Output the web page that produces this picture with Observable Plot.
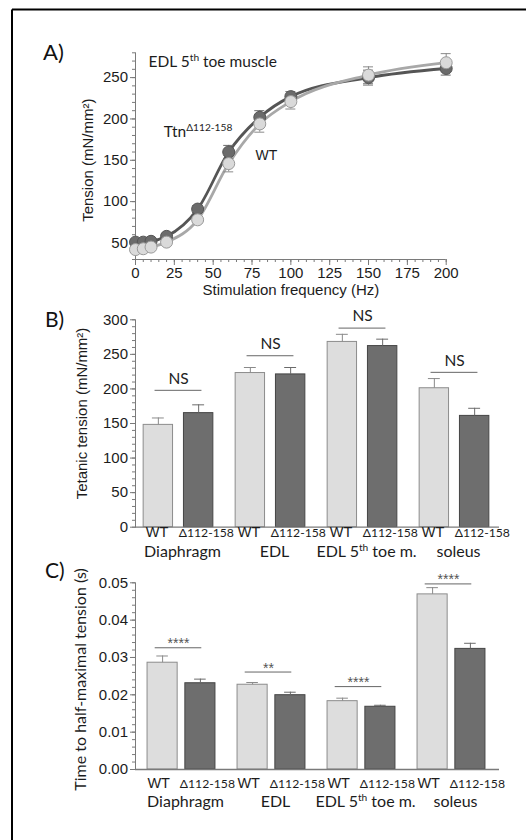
<!DOCTYPE html>
<html><head><meta charset="utf-8">
<script src="https://cdn.jsdelivr.net/npm/d3@7"></script>
<script src="https://cdn.jsdelivr.net/npm/@observablehq/plot@0.6"></script>
<style>
body{margin:0;background:#fff;}
#wrap{position:relative;width:526px;height:840px;overflow:hidden;background:#fff;}
.panel{position:absolute;left:0;}
#over{position:absolute;left:0;top:0;}
</style></head><body>
<div id="wrap">
<svg id="over" width="526" height="840">
  <line x1="12" y1="9.5" x2="526" y2="9.5" stroke="#000" stroke-width="2"/>
  <line x1="12" y1="9.5" x2="12" y2="840" stroke="#000" stroke-width="2"/>
  <text x="43" y="59.5" font-family="Lato, sans-serif" font-size="22" fill="#111">A)</text>
  <text x="45" y="327" font-family="Lato, sans-serif" font-size="21" fill="#111">B)</text>
  <text x="45" y="577.5" font-family="Lato, sans-serif" font-size="21" fill="#111">C)</text>
</svg>
<div id="pA" class="panel" style="top:40px"></div>
<div id="pB" class="panel" style="top:300px"></div>
<div id="pC" class="panel" style="top:570px"></div>
</div>
<script>
// ---------- Panel A data ----------
const freqHz = [0, 5, 10, 20, 40, 60, 80, 100, 150, 200];
const tensionTtn = [51, 51, 52, 58, 91, 160, 202, 227, 250, 261];
const tensionTtnSem = [3, 3, 3, 3, 4, 8, 8, 6, 9, 8];
const tensionWT = [42, 43, 45, 51, 78, 146, 194, 221, 253, 268];
const tensionWTSem = [3, 3, 3, 3, 3, 10, 10, 9, 10, 11];
const ticksAx = [0, 25, 50, 75, 100, 125, 150, 175, 200];
const ticksAy = [50, 100, 150, 200, 250];

// ---------- Panel B / C shared categories ----------
const muscles = ["Diaphragm", "EDL", "EDL 5^{th} toe m.", "soleus"];
const genotypes = ["WT", "\u0394112-158"];

// ---------- Panel B data ----------
const tetanicWT = [148, 223, 268, 201];
const tetanicWTSem = [10, 8, 11, 14];
const tetanicDel = [165, 221, 262, 161];
const tetanicDelSem = [12, 10, 10, 11];
const tetanicSig = ["NS", "NS", "NS", "NS"];
const tetanicSigLevel = [198, 248, 288, 224];
const ticksBy = [0, 50, 100, 150, 200, 250, 300];

// ---------- Panel C data ----------
const halfWT = [0.0286, 0.0227, 0.0183, 0.0469];
const halfWTSem = [0.0018, 0.0006, 0.0008, 0.0018];
const halfDel = [0.0231, 0.0199, 0.0168, 0.0323];
const halfDelSem = [0.0011, 0.0008, 0.0004, 0.0015];
const halfSig = ["****", "**", "****", "****"];
const halfSigLevel = [0.0326, 0.0261, 0.0222, 0.0497];
const ticksCy = [0, 0.01, 0.02, 0.03, 0.04, 0.05];

const axisColor = "#7a7a7a";
const textColor = "#1c1c1c";
const arial = "'Liberation Sans', Arial, sans-serif";
const cal = "Lato, 'Open Sans', sans-serif";

function supify(svg) {
  d3.select(svg).selectAll("text").each(function () {
    const t = this.textContent;
    if (!t.includes("^{")) return;
    const fs = parseFloat(getComputedStyle(this).fontSize) || 15;
    const parts = t.split(/(\^\{[^}]*\})/).filter(p => p);
    while (this.firstChild) this.removeChild(this.firstChild);
    let shifted = false;
    for (const p of parts) {
      const m = p.match(/^\^\{(.*)\}$/);
      const ts = document.createElementNS("http://www.w3.org/2000/svg", "tspan");
      if (m) {
        ts.textContent = m[1];
        ts.setAttribute("dy", (-0.38 * fs).toFixed(2));
        ts.setAttribute("font-size", (0.68 * fs).toFixed(2));
        shifted = true;
      } else {
        ts.textContent = p;
        if (shifted) { ts.setAttribute("dy", (0.38 * fs).toFixed(2)); shifted = false; }
      }
      this.appendChild(ts);
    }
  });
  return svg;
}

// ---------- Panel A ----------
const rowsTtn = freqHz.map((f, i) => ({f, t: tensionTtn[i], e: tensionTtnSem[i]}));
const rowsWT = freqHz.map((f, i) => ({f, t: tensionWT[i], e: tensionWTSem[i]}));

function errMarks(rows, color) {
  return [
    Plot.ruleX(rows, {x: "f", y1: d => d.t - d.e, y2: d => d.t + d.e, stroke: color, strokeWidth: 1}),
    Plot.ruleY(rows, {x1: "f", x2: "f", y: d => d.t + d.e, insetLeft: -5, insetRight: -5, stroke: color, strokeWidth: 1}),
    Plot.ruleY(rows, {x1: "f", x2: "f", y: d => d.t - d.e, insetLeft: -5, insetRight: -5, stroke: color, strokeWidth: 1})
  ];
}

const plotA = Plot.plot({
  width: 526, height: 270,
  marginLeft: 135, marginRight: 80.3, marginTop: 12.3, marginBottom: 51,
  x: {domain: [0, 200]},
  y: {domain: [30, 280]},
  style: {fontFamily: arial, fontSize: "15px", color: textColor, background: "transparent", overflow: "visible"},
  marks: [
    Plot.ruleX([0], {stroke: axisColor}),
    Plot.ruleY([30], {stroke: axisColor}),
    Plot.axisY({ticks: ticksAy, tickSize: 5, tickPadding: 2.5, stroke: axisColor, label: null}),
    Plot.axisY({ticks: d3.range(30, 281, 10), tickSize: 3, text: null, stroke: axisColor, label: null}),
    Plot.axisX({ticks: ticksAx, tickSize: 6, tickPadding: 2, stroke: axisColor, label: null}),
    Plot.axisX({ticks: d3.range(0, 201, 5), tickSize: 3, text: null, stroke: axisColor, label: null}),
    Plot.text(["Tension (mN/mm\u00b2)"], {text: d => d, frameAnchor: "left", textAnchor: "middle", rotate: -90, dx: -47, dy: 4}),
    Plot.text(["Stimulation frequency (Hz)"], {text: d => d, frameAnchor: "bottom", dy: 35.5}),
    Plot.line(rowsTtn, {x: "f", y: "t", curve: "monotone-x", stroke: "#555", strokeWidth: 2.8}),
    Plot.line(rowsWT, {x: "f", y: "t", curve: "monotone-x", stroke: "#a8a8a8", strokeWidth: 2.8}),
    ...errMarks(rowsTtn, "#6a6a6a"),
    ...errMarks(rowsWT, "#8a8a8a"),
    Plot.dot(rowsTtn, {x: "f", y: "t", r: 6, fill: "#6b6b6b", stroke: "#555", strokeWidth: 1}),
    Plot.dot(rowsWT, {x: "f", y: "t", r: 6, fill: "#dadada", stroke: "#9a9a9a", strokeWidth: 1}),
    Plot.text(["EDL 5^{th} toe muscle"], {text: d => d, x: 8.4, y: 263, textAnchor: "start", lineAnchor: "bottom", fontFamily: cal, fontSize: 15.5}),
    Plot.text(["Ttn^{\u0394112-158}"], {text: d => d, x: 18.2, y: 178, textAnchor: "start", lineAnchor: "bottom", fontFamily: cal, fontSize: 15.5}),
    Plot.text(["WT"], {text: d => d, x: 77.2, y: 150, textAnchor: "start", lineAnchor: "bottom", fontSize: 14})
  ]
});
document.getElementById("pA").appendChild(supify(plotA));

// ---------- Bar panels ----------
function barPanel(o) {
  const wtRows = muscles.map((m, i) => ({muscle: m, g: genotypes[0], v: o.wt[i], e: o.wtSem[i]}));
  const delRows = muscles.map((m, i) => ({muscle: m, g: genotypes[1], v: o.del[i], e: o.delSem[i]}));
  const sigRows = muscles.map((m, i) => ({muscle: m, s: o.sig[i], level: o.sigLevel[i]}));
  const bw = (o.range[1] - o.range[0]) / muscles.length;
  const wL = bw / 2 - o.half - o.barW / 2, wR = bw - wL - o.barW;
  const dL = bw / 2 + o.half - o.barW / 2, dR = bw - dL - o.barW;
  const cw = 12;
  const cwL = bw / 2 - o.half - cw / 2, cwR = bw - cwL - cw;
  const cdL = bw / 2 + o.half - cw / 2, cdR = bw - cdL - cw;
  const bL = bw / 2 - o.bracketHalf + o.bracketDx, bR = bw - bL - 2 * o.bracketHalf;
  const p = Plot.plot({
    width: 526, height: o.height,
    marginLeft: 135, marginRight: 27, marginTop: o.marginTop, marginBottom: o.marginBottom,
    x: {type: "band", domain: muscles, range: o.range, padding: 0, axis: null},
    y: {domain: o.yDomain},
    style: {fontFamily: arial, fontSize: "15px", color: textColor, background: "transparent", overflow: "visible"},
    marks: [
      Plot.barY(wtRows, {x: "muscle", y: "v", insetLeft: wL, insetRight: wR, fill: "#dddddd", stroke: "#8c8c8c", strokeWidth: 1}),
      Plot.barY(delRows, {x: "muscle", y: "v", insetLeft: dL, insetRight: dR, fill: "#6e6e6e", stroke: "#454545", strokeWidth: 1}),
      Plot.ruleX(wtRows, {x: "muscle", y1: "v", y2: d => d.v + d.e, dx: -o.half, stroke: "#8a8a8a"}),
      Plot.ruleX(delRows, {x: "muscle", y1: "v", y2: d => d.v + d.e, dx: o.half, stroke: "#6a6a6a"}),
      Plot.tickY(wtRows, {x: "muscle", y: d => d.v + d.e, insetLeft: cwL, insetRight: cwR, stroke: "#8a8a8a"}),
      Plot.tickY(delRows, {x: "muscle", y: d => d.v + d.e, insetLeft: cdL, insetRight: cdR, stroke: "#6a6a6a"}),
      Plot.ruleY([o.yDomain[0]], {stroke: axisColor, strokeWidth: 1.3}),
      Plot.frame({anchor: "left", stroke: axisColor}),
      Plot.axisY({ticks: o.yTicks, tickSize: 5, tickPadding: 2.5, stroke: axisColor, label: null, tickFormat: o.yFormat}),
      Plot.axisY({ticks: o.yMinor, tickSize: 3, text: null, stroke: axisColor, label: null}),
      Plot.tickY(sigRows, {x: "muscle", y: "level", insetLeft: bL, insetRight: bR, stroke: "#666", strokeWidth: 1}),
      Plot.text(sigRows, {x: "muscle", y: "level", text: "s", dy: o.sigDy, dx: o.bracketDx, fontFamily: o.sigFont, fontSize: o.sigSize, fill: o.sigColor, letterSpacing: o.sigSpacing}),
      Plot.text(wtRows, {x: "muscle", text: "g", frameAnchor: "bottom", dx: o.wtDx, dy: o.row1, fontSize: 14.5}),
      Plot.text(delRows, {x: "muscle", text: "g", frameAnchor: "bottom", dx: o.delDx, dy: o.row1, fontFamily: cal, fontSize: 12.2}),
      Plot.text(muscles, {x: d => d, text: d => d, frameAnchor: "bottom", dx: 4, dy: o.row2, fontFamily: cal, fontSize: 16}),
      Plot.text([o.label], {text: d => d, frameAnchor: "left", textAnchor: "middle", rotate: -90, dx: o.labelDx, dy: o.labelDy, fontFamily: o.labelFont, fontSize: o.labelSize})
    ]
  });
  return supify(p);
}

document.getElementById("pB").appendChild(barPanel({
  height: 280, marginTop: 19.3, marginBottom: 53.3,
  range: [132.1, 500.5], yDomain: [0, 300],
  yTicks: ticksBy, yMinor: d3.range(0, 301, 10), yFormat: d3.format("d"),
  wt: tetanicWT, wtSem: tetanicWTSem, del: tetanicDel, delSem: tetanicDelSem,
  sig: tetanicSig, sigLevel: tetanicSigLevel,
  sigFont: cal, sigSize: 15.5, sigColor: "#222", sigSpacing: 0, sigDy: -11.7,
  barW: 29.5, half: 20.15, bracketHalf: 23.5, bracketDx: 0,
  row1: 10, row2: 29.3, wtDx: -21.5, delDx: 27.8,
  label: "Tetanic tension (mN/mm\u00b2)", labelDx: -53.3, labelDy: -10, labelFont: arial, labelSize: 15
}));

document.getElementById("pC").appendChild(barPanel({
  height: 260, marginTop: 12.3, marginBottom: 61,
  range: [135.6, 497.2], yDomain: [0, 0.05],
  yTicks: ticksCy, yMinor: d3.range(0, 0.0501, 0.002), yFormat: d3.format(".2f"),
  wt: halfWT, wtSem: halfWTSem, del: halfDel, delSem: halfDelSem,
  sig: halfSig, sigLevel: halfSigLevel,
  sigFont: arial, sigSize: 14, sigColor: "#555", sigSpacing: "1.5px", sigDy: -4,
  barW: 30.5, half: 18.9, bracketHalf: 23.5, bracketDx: -3,
  row1: 18.3, row2: 37.5, wtDx: -22.8, delDx: 25.9,
  label: "Time to half-maximal tension (s)", labelDx: -55, labelDy: 3.3, labelFont: cal, labelSize: 16
}));
</script>
</body></html>
